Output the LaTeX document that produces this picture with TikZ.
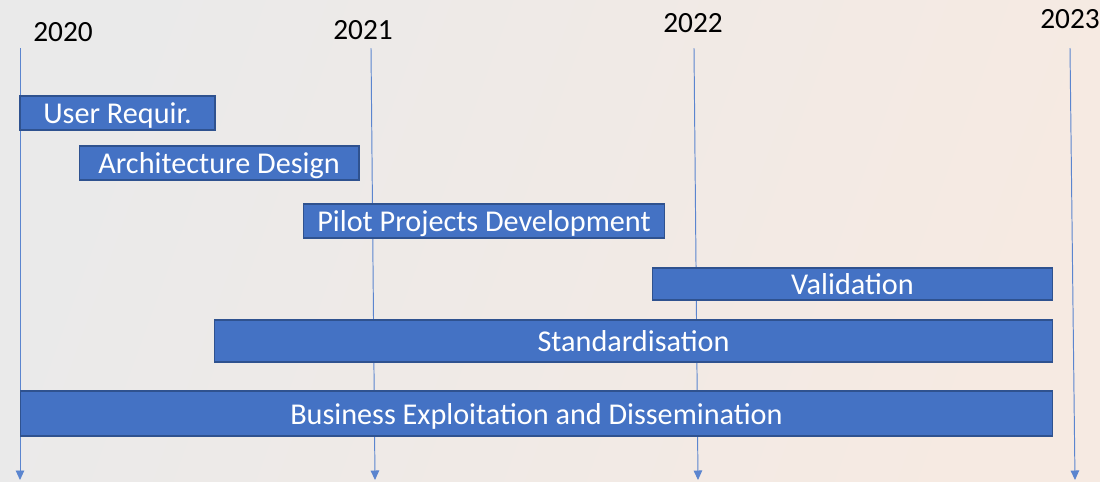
\documentclass[tikz,border=0pt]{standalone}
\usepackage{fontspec}
\setmainfont{Carlito}
\usepackage{xcolor}
\usetikzlibrary{arrows.meta}

\definecolor{barblue}{HTML}{4472C4}
\definecolor{bardark}{HTML}{2F528F}
\definecolor{lineblue}{HTML}{5B85CF}
\definecolor{bgleft}{HTML}{EAEAEA}
\definecolor{bgright}{HTML}{F6EAE2}

\begin{document}
\begin{tikzpicture}[x=0.02cm, y=-0.02cm,
            year/.style = {font=\fontsize{16.7}{18}\selectfont, text=black, inner sep=0pt},
            yearline/.style = {draw=lineblue, line width=0.55pt,
                               -{Triangle[width=0.17cm, length=0.19cm]}},
            bar/.style = {shape=rectangle, draw=bardark, line width=0.6pt,
                          fill=barblue, text=white, inner sep=0pt,
                          text height=0.43cm, text depth=0cm,
                          font=\fontsize{17.2}{19}\selectfont}]
    % background
    \shade[left color=bgleft, right color=bgright, shading angle=70]
        (0,0) rectangle (1100,481);
    \useasboundingbox (0,0) rectangle (1100,481);

    % years
    \node[year] (y2020) at (63,32) {2020};
    \node[year] (y2021) at (363,30) {2021};
    \node[year] (y2022) at (693,23) {2022};
    \node[year] (y2023) at (1070,19) {2023};

    % time lines
    \coordinate (t2020) at (20,48);    \coordinate (b2020) at (20,480);
    \coordinate (t2021) at (371,48);   \coordinate (b2021) at (375,480);
    \coordinate (t2022) at (694,48);   \coordinate (b2022) at (698,480);
    \coordinate (t2023) at (1070,48);  \coordinate (b2023) at (1075,480);
    \foreach \yr in {2020,2021,2022,2023}
        \draw[yearline] (t\yr) -- (b\yr);

    % work packages
    \node[bar, minimum width=3.9cm, minimum height=0.68cm] (userreq) at (117.5,113) {User Requir.};
    \node[bar, minimum width=5.6cm, minimum height=0.68cm] (archdesign) at (219,163) {Architecture Design};
    \node[bar, minimum width=7.24cm, minimum height=0.68cm] (pilotdev) at (484,221) {Pilot Projects Development};
    \node[bar, minimum width=8.02cm, minimum height=0.64cm] (validation) at (852.5,284) {Validation};
    \node[bar, minimum width=16.78cm, minimum height=0.84cm] (standard) at (633.5,341) {Standardisation};
    \node[bar, minimum width=20.66cm, minimum height=0.9cm] (business) at (536.5,413.5) {Business Exploitation and Dissemination};
\end{tikzpicture}
\end{document}
